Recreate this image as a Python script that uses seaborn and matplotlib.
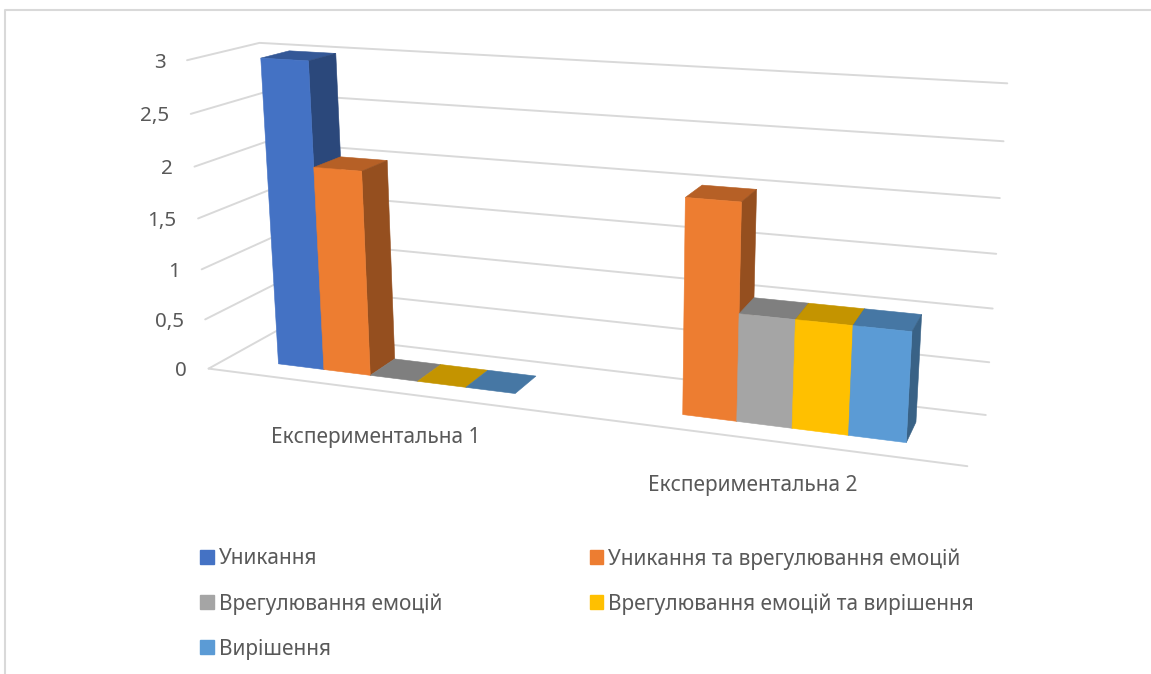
import numpy as np
import pandas as pd
import matplotlib
matplotlib.use("Agg")
import matplotlib.pyplot as plt
from matplotlib.patches import Polygon, Rectangle
import seaborn as sns

# Chart data
groups = ["Експериментальна 1", "Експериментальна 2"]
avoid = [3, np.nan]
avoid_regulate = [2, 2]
regulate = [0, 1]
regulate_solve = [0, 1]
solve = [0, 1]
series_names = ["Уникання", "Уникання та врегулювання емоцій", "Врегулювання емоцій",
                "Врегулювання емоцій та вирішення", "Вирішення"]
series_values = [avoid, avoid_regulate, regulate, regulate_solve, solve]
series_colors = ["#4472C4", "#ED7D31", "#A5A5A5", "#FFC000", "#5B9BD5"]
value_ticks = [0, 0.5, 1, 1.5, 2, 2.5, 3]

sns.set_theme(style="white")
plt.rcParams["font.family"] = ["Noto Sans", "DejaVu Sans"]
TEXT = "#595959"
GRID = "#D9D9D9"

# Camera: (across, depth, value) of the chart box against its place on the canvas
box_u = [0, 0, 0, 0, 1, 1, 1, 0, 1, 0.5, 0.5]
box_d = [0, 0, 1, 1, 1, 1, 0, 0, 1, 0, 1]
box_v = [0, 3, 0, 3, 0, 3, 0, 1.5, 1.5, 0, 0]
box_x = [208, 187, 277, 260, 986, 1007, 966, 197, 997, 561, 603]
box_y = [368, 61, 331, 43, 416, 83, 466, 218, 253, 414, 370]


def fit_camera():
    rows, rhs = [], []
    for u, d, v, x, y in zip(box_u, box_d, box_v, box_x, box_y):
        rows.append([u, d, v, 1, 0, 0, 0, 0, -x * u, -x * d, -x * v])
        rows.append([0, 0, 0, 0, u, d, v, 1, -y * u, -y * d, -y * v])
        rhs += [x, y]
    p = np.linalg.lstsq(np.array(rows, float), np.array(rhs, float), rcond=None)[0]
    return np.append(p, 1).reshape(3, 4)


CAMERA = fit_camera()


def project(u, d, v):
    x, y, w = CAMERA @ np.array([u, d, v, 1.0])
    return x / w, y / w


df = pd.DataFrame({
    "group": np.repeat(groups, len(series_names)),
    "series": series_names * len(groups),
    "value": np.ravel(np.array(series_values, float).T),
})

fig = plt.figure(figsize=(11.51, 6.74), dpi=100, facecolor="white")
bars_ax = fig.add_axes([0, 0, 1, 1])
sns.barplot(data=df, x="group", y="value", hue="series", hue_order=series_names,
            palette=series_colors, width=0.69, gap=0, legend=False, ax=bars_ax)
x0, x1 = bars_ax.get_xlim()

# Collect the seaborn bars, then hide their flat axes
bars = []
for container, color in zip(bars_ax.containers, series_colors):
    for rect in container:
        if np.isfinite(rect.get_height()):
            bars.append((rect.get_x(), rect.get_width(), rect.get_height(), color))
bars.sort(key=lambda b: b[0])
bars_ax.set_visible(False)

canvas = fig.add_axes([0, 0, 1, 1], zorder=2)
canvas.set_xlim(0, 1151)
canvas.set_ylim(674, 0)
canvas.axis("off")

# Outer chart frame
canvas.plot([5.5, 5.5, 1151], [674, 9.5, 9.5], color=GRID, lw=1.5, solid_capstyle="butt")

# Walls' gridlines and value labels
for tick in value_ticks:
    pts = [project(0, 0, tick), project(0, 1, tick), project(1, 1, tick)]
    canvas.plot(*zip(*pts), color=GRID, lw=1.4, solid_joinstyle="miter", zorder=1)
    lx, ly = pts[0]
    canvas.text(lx - 21.5, ly + 2.5, f"{tick:g}".replace(".", ","), ha="right", va="center",
                fontsize=14.8, color=TEXT)
canvas.plot(*zip(project(0, 0, 0), project(1, 0, 0)), color=GRID, lw=1.4, zorder=1)

# Category labels under the floor
for i, name in enumerate(groups):
    fx, fy = project((i + 0.5) / 2, 0, 0)
    canvas.text(fx - 1, fy + 47, name, ha="center", va="center", fontsize=15, color=TEXT)


def shade(color, factor):
    rgb = np.array(matplotlib.colors.to_rgb(color)) * factor
    return tuple(rgb)


# Extruded bars, painted from left to right
DEPTH_FRONT, DEPTH_BACK = 0.28, 0.69
for bx, bw, bh, color in bars:
    u0 = (bx - x0) / (x1 - x0)
    u1 = (bx + bw - x0) / (x1 - x0)
    df_, db_ = DEPTH_FRONT, DEPTH_BACK
    faces = [
        ([(u0, db_, bh), (u1, db_, bh), (u1, df_, bh), (u0, df_, bh)], shade(color, 0.77)),
    ]
    if bh > 0:
        faces.append(([(u1, df_, 0), (u1, db_, 0), (u1, db_, bh), (u1, df_, bh)], shade(color, 0.63)))
        faces.append(([(u0, df_, 0), (u1, df_, 0), (u1, df_, bh), (u0, df_, bh)], color))
    for corners, face in faces:
        canvas.add_patch(Polygon([project(*c) for c in corners], closed=True, zorder=3,
                                 facecolor=face, edgecolor=face, lw=0.4))

# Legend in two columns, filled column by column
legend_order = [0, 2, 4, 1, 3]
handles = [Rectangle((0, 0), 1, 1, color=series_colors[i]) for i in legend_order]
canvas.legend(handles, [series_names[i] for i in legend_order], ncol=2, frameon=False, loc="upper left",
              bbox_to_anchor=(200 / 1151, 1 - 548 / 674), bbox_transform=fig.transFigure,
              fontsize=15, labelcolor=TEXT, handlelength=0.65, handleheight=0.65,
              handletextpad=0.24, labelspacing=1.14, columnspacing=7.1, borderpad=0, borderaxespad=0)

fig.savefig("out.png", dpi=100, facecolor="white")
